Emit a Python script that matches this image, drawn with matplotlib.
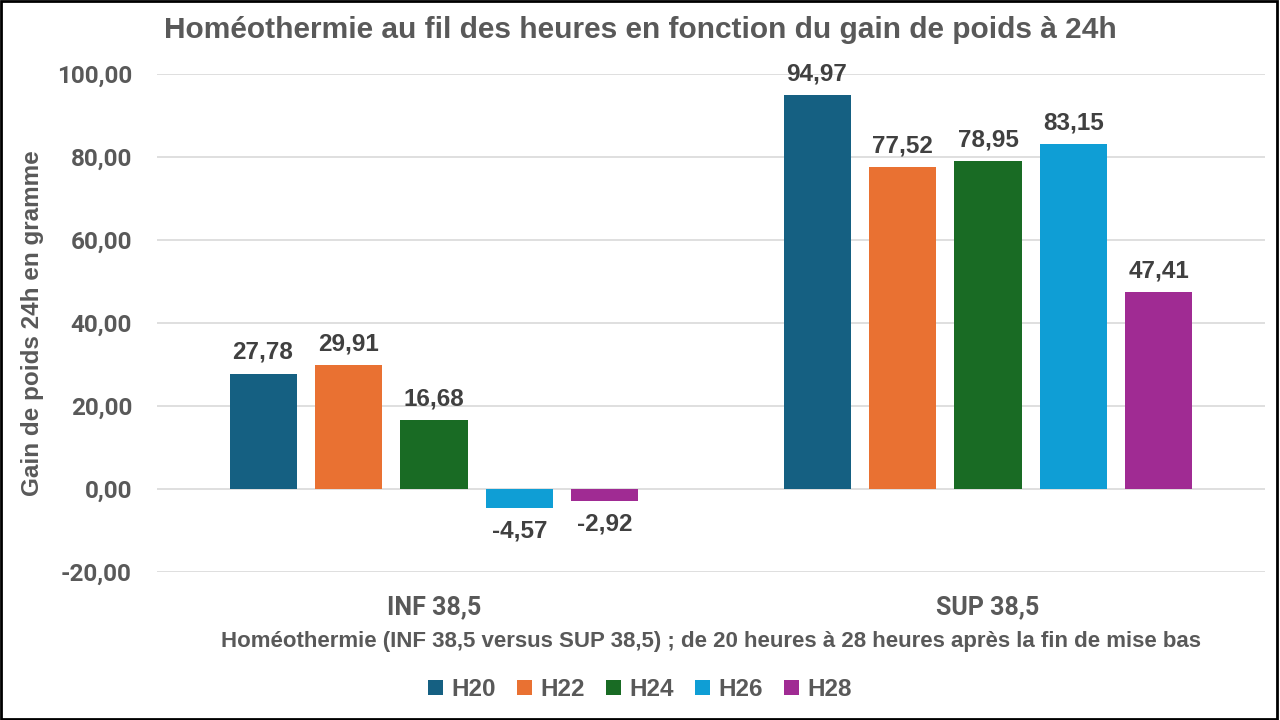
import matplotlib.pyplot as plt
from matplotlib.patches import Rectangle
import numpy as np

categories = ['INF 38,5', 'SUP 38,5']
series = ['H20', 'H22', 'H24', 'H26', 'H28']
values = {
    'H20': [27.78, 94.97],
    'H22': [29.91, 77.52],
    'H24': [16.68, 78.95],
    'H26': [-4.57, 83.15],
    'H28': [-2.92, 47.41],
}
colors = ['#156082', '#e97132', '#196b24', '#0f9ed5', '#a02b93']
yticks = [-20, 0, 20, 40, 60, 80, 100]

gray = '#595959'
label_font = 'Liberation Sans'
tick_font = 'Roboto'

fig = plt.figure(figsize=(12.8, 7.2), dpi=100)
ax = fig.add_axes([157 / 1280, 1 - 572 / 720, 1108 / 1280, 498 / 720])

x = np.arange(len(categories))
step = 0.1543
width = 0.121
for i, s in enumerate(series):
    pos = x + (i - 2) * step
    bars = ax.bar(pos, values[s], width, color=colors[i], label=s, zorder=3)
    for b, v in zip(bars, values[s]):
        txt = f'{v:.2f}'.replace('.', ',')
        above = v >= 0
        ax.annotate(txt, (b.get_x() + b.get_width() / 2, v),
                    xytext=(0, 7 if above else -8), textcoords='offset points',
                    ha='center', va='bottom' if above else 'top',
                    fontsize=17.5, fontweight='bold', color='#404040',
                    family=label_font)

ax.set_xlim(-0.5, 1.5)
ax.set_ylim(-20, 100)
ax.set_yticks(yticks)
ax.set_yticklabels([f'{t:.2f}'.replace('.', ',') for t in yticks],
                   fontsize=17.5, fontweight='bold', color=gray, family=tick_font)
ax.set_xticks(x)
ax.set_xticklabels(categories, fontsize=18, fontweight='bold', color=gray,
                   family=tick_font)
ax.tick_params(axis='both', length=0)
ax.tick_params(axis='y', pad=18)
ax.tick_params(axis='x', pad=17)
ax.grid(axis='y', color='#d9d9d9', linewidth=1.2, zorder=0)
for sp in ax.spines.values():
    sp.set_visible(False)

fig.text(640 / 1280, 1 - 30 / 720, 'Homéothermie au fil des heures en fonction du gain de poids à 24h',
         ha='center', va='center', fontsize=21.5, fontweight='bold', color=gray,
         family=label_font)
fig.text(33 / 1280, 1 - 323 / 720, 'Gain de poids 24h en gramme', rotation=90,
         ha='center', va='center', fontsize=17.5, fontweight='bold', color=gray,
         family=label_font)
fig.text(711 / 1280, 1 - 642 / 720,
         'Homéothermie (INF 38,5 versus SUP 38,5) ; de 20 heures à 28 heures après la fin de mise bas',
         ha='center', va='center', fontsize=16, fontweight='bold', color=gray,
         family=label_font)

leg = fig.legend(loc='center', bbox_to_anchor=(0.5, 1 - 690 / 720), ncol=5,
                 frameon=False, handlelength=0.58, handleheight=0.58,
                 handletextpad=0.35, columnspacing=0.9,
                 prop={'family': label_font, 'weight': 'bold', 'size': 17.5})
for t in leg.get_texts():
    t.set_color(gray)

fig.patches.append(Rectangle((0.001, 0.002), 0.997, 0.996, transform=fig.transFigure,
                             fill=False, edgecolor='black', linewidth=2))

fig.savefig('out.png', dpi=100)
